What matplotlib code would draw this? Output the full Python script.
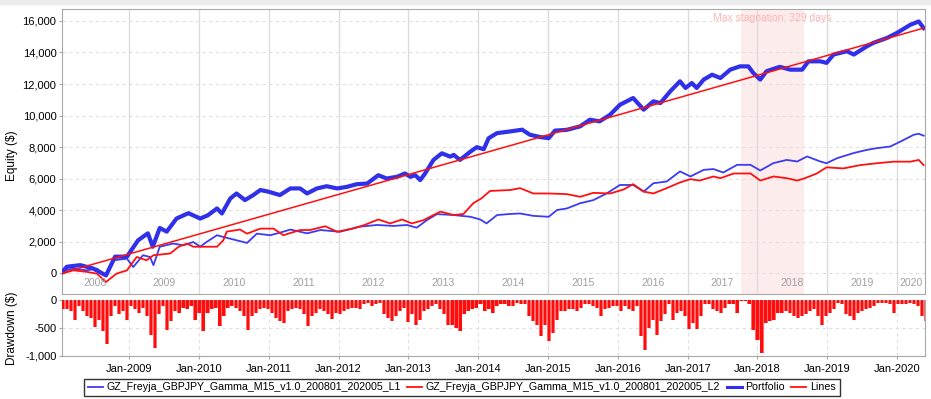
import matplotlib
matplotlib.use("Agg")
import matplotlib.pyplot as plt
import numpy as np
from matplotlib.ticker import FuncFormatter
from matplotlib.lines import Line2D
from matplotlib.patches import Rectangle

plt.rcParams['font.family'] = ['Liberation Sans', 'DejaVu Sans']

# equity values (x = decimal year)
l1_x = [2008.04, 2008.20, 2008.39, 2008.54, 2008.66, 2008.78, 2008.97, 2009.06, 2009.20, 2009.30,
        2009.35, 2009.44, 2009.63, 2009.78, 2009.92, 2010.02, 2010.11, 2010.26, 2010.35, 2010.45,
        2010.69, 2010.83, 2011.02, 2011.16, 2011.31, 2011.55, 2011.74, 2012.02, 2012.30, 2012.55,
        2012.79, 2012.98, 2013.12, 2013.27, 2013.41, 2013.65, 2013.89, 2014.03, 2014.12, 2014.27,
        2014.46, 2014.60, 2014.79, 2015.01, 2015.13, 2015.27, 2015.46, 2015.65, 2015.84, 2016.03,
        2016.22, 2016.37, 2016.51, 2016.70, 2016.89, 2017.04, 2017.23, 2017.37, 2017.51, 2017.71,
        2017.90, 2018.04, 2018.23, 2018.42, 2018.57, 2018.71, 2018.90, 2018.99, 2019.14, 2019.38,
        2019.57, 2019.71, 2019.90, 2020.05, 2020.24, 2020.31, 2020.38]
l1_y = [130, 280, 170, 280, -150, 810, 910, 380, 1130, 1020,
        500, 1670, 1870, 1760, 1970, 1670, 1970, 2400, 2290, 2180,
        1910, 2500, 2400, 2560, 2760, 2520, 2730, 2620, 2940, 3050,
        2990, 3050, 2880, 3370, 3740, 3680, 3570, 3400, 3150, 3680,
        3750, 3780, 3630, 3570, 4000, 4100, 4430, 4630, 5050, 5590,
        5590, 5170, 5700, 5810, 6450, 6130, 6550, 6600, 6380, 6870,
        6870, 6510, 6980, 7180, 7080, 7400, 7080, 6970, 7290, 7620,
        7820, 7930, 8030, 8350, 8780, 8840, 8720]

l2_x = [2008.04, 2008.20, 2008.39, 2008.54, 2008.67, 2008.82, 2008.97, 2009.04, 2009.11, 2009.25,
        2009.35, 2009.59, 2009.71, 2009.83, 2009.92, 2010.06, 2010.26, 2010.35, 2010.40, 2010.59,
        2010.69, 2010.88, 2011.07, 2011.21, 2011.45, 2011.59, 2011.81, 2011.98, 2012.21, 2012.36,
        2012.57, 2012.74, 2012.91, 2013.05, 2013.22, 2013.31, 2013.46, 2013.65, 2013.79, 2013.93,
        2014.05, 2014.17, 2014.46, 2014.60, 2014.79, 2015.01, 2015.27, 2015.46, 2015.65, 2015.89,
        2016.08, 2016.22, 2016.37, 2016.51, 2016.70, 2016.89, 2017.04, 2017.17, 2017.37, 2017.47,
        2017.66, 2017.90, 2018.04, 2018.23, 2018.42, 2018.57, 2018.68, 2018.85, 2018.99, 2019.23,
        2019.47, 2019.71, 2019.95, 2020.19, 2020.31, 2020.38]
l2_y = [-40, 170, 80, -40, -570, -40, 170, 600, 1020, 810,
        1130, 1240, 1670, 1870, 1670, 1670, 1670, 2080, 2630, 2760,
        2500, 2820, 2820, 2400, 2730, 2730, 2970, 2620, 2830, 3030,
        3400, 3150, 3400, 3150, 3360, 3570, 3900, 3680, 3750, 4430,
        4750, 5210, 5270, 5390, 5050, 5050, 5010, 4840, 5090, 5050,
        5300, 5640, 5170, 5050, 5390, 5750, 5960, 5870, 6130, 6020,
        6320, 6320, 5870, 6130, 6020, 5870, 6020, 6320, 6710, 6640,
        6850, 6970, 7070, 7070, 7180, 6850]

pf_x = [2008.04, 2008.11, 2008.30, 2008.48, 2008.67, 2008.80, 2008.97, 2009.13, 2009.27, 2009.34,
        2009.44, 2009.54, 2009.68, 2009.85, 2010.02, 2010.13, 2010.26, 2010.33, 2010.45, 2010.54,
        2010.66, 2010.78, 2010.88, 2011.00, 2011.16, 2011.31, 2011.45, 2011.55, 2011.69, 2011.83,
        2011.98, 2012.12, 2012.26, 2012.41, 2012.57, 2012.69, 2012.84, 2012.95, 2013.03, 2013.10,
        2013.17, 2013.24, 2013.36, 2013.48, 2013.60, 2013.65, 2013.74, 2013.89, 2013.98, 2014.08,
        2014.15, 2014.27, 2014.46, 2014.63, 2014.74, 2014.89, 2015.01, 2015.10, 2015.27, 2015.46,
        2015.60, 2015.74, 2015.89, 2016.03, 2016.22, 2016.37, 2016.51, 2016.61, 2016.75, 2016.89,
        2016.97, 2017.06, 2017.13, 2017.23, 2017.35, 2017.47, 2017.61, 2017.75, 2017.87, 2017.94,
        2018.04, 2018.13, 2018.32, 2018.47, 2018.64, 2018.73, 2018.90, 2018.99, 2019.09, 2019.28,
        2019.38, 2019.57, 2019.66, 2019.86, 2020.00, 2020.19, 2020.31, 2020.38]
pf_y = [50, 400, 500, 300, -150, 1040, 1040, 2080, 2520, 1670,
        2860, 2630, 3460, 3800, 3460, 3670, 4100, 3780, 4730, 5050,
        4630, 4950, 5270, 5160, 4950, 5370, 5370, 5050, 5370, 5510,
        5370, 5470, 5640, 5680, 6210, 6000, 6110, 6320, 6110, 6210,
        5900, 6320, 7180, 7600, 7390, 7500, 7180, 7710, 7990, 7860,
        8560, 8880, 8990, 9100, 8780, 8630, 8560, 9040, 9090, 9310,
        9730, 9630, 10050, 10680, 11110, 10370, 10900, 10790, 11530, 12170,
        11750, 12060, 11750, 12280, 12590, 12380, 12910, 13120, 13120, 12700,
        12280, 12810, 13090, 12910, 12910, 13440, 13440, 13340, 13870, 14080,
        13870, 14400, 14610, 14930, 15250, 15760, 15970, 15550]

# drawdown, one value every 21 days from late Jan 2008
dd_start = 2008.054
dd_step = 21 / 365.25
dd_values = [-170, -170, -200, -360, -110, -200, -290, -320, -480, -350,
             -560, -790, -290, -110, -260, -200, -350, -110, -170, -230,
             -140, -290, -620, -860, -260, -110, -530, -380, -200, -230,
             -140, -170, -110, -360, -230, -560, -230, -170, -140, -460,
             -290, -140, -110, -140, -200, -290, -530, -290, -230, -170,
             -140, -170, -230, -320, -380, -410, -200, -170, -140, -170,
             -260, -460, -290, -230, -170, -200, -260, -340, -230, -260,
             -200, -170, -140, -140, -170, -80, -50, -110, -80, -50,
             -260, -320, -380, -290, -200, -140, -400, -260, -440, -350,
             -200, -170, -110, -80, -170, -260, -440, -440, -500, -550,
             -260, -200, -170, -140, -80, -200, -170, -230, -110, -80,
             -80, -110, -110, -50, -80, -80, -290, -380, -440, -640,
             -440, -730, -590, -350, -200, -200, -170, -170, -200, -140,
             -80, -80, -110, -140, -290, -170, -140, -110, -110, -200,
             -110, -170, -200, -110, -650, -890, -500, -350, -620, -380,
             -260, -80, -350, -230, -200, -290, -520, -410, -520, -290,
             -80, -80, -170, -200, -230, -140, -80, -80, -230, -20,
             -20, -80, -530, -710, -950, -410, -380, -350, -230, -230,
             -200, -230, -290, -320, -290, -260, -200, -170, -290, -440,
             -290, -230, -170, -50, -80, -260, -290, -360, -230, -200,
             -170, -140, -110, -50, -50, -50, -80, -230, -80, -80,
             -80, -50, -80, -110, -290, -380]

stag_start, stag_end = 2017.77, 2018.66
stag_days = 329
years = list(range(2008, 2021))
x_min, x_max = 2008.04, 2020.40

labels = ['GZ_Freyja_GBPJPY_Gamma_M15_v1.0_200801_202005_L1',
          'GZ_Freyja_GBPJPY_Gamma_M15_v1.0_200801_202005_L2',
          'Portfolio', 'Lines']
c_l1 = '#3b3bf2'
c_l2 = '#ff1010'
c_pf = '#3030ea'
grid_c = '#e0e0e0'
spine_c = '#a8a8a8'

fig = plt.figure(figsize=(9.31, 3.99), dpi=100)
fig.patches.append(Rectangle((0, 0.99), 1, 0.01, transform=fig.transFigure,
                             color='#ececec', zorder=0))

ax = fig.add_axes([0.0666, 0.2632, 0.927, 0.7142])
ax2 = fig.add_axes([0.0666, 0.1078, 0.927, 0.1403])

# --- equity panel
ax.axvspan(stag_start, stag_end, color='#fdecec', zorder=0, lw=0)
for yr in years[1:]:
    ax.axvline(yr, color='#dcdcdc', lw=1.0, zorder=1)
ax.yaxis.grid(True, ls=(0, (3, 3)), color=grid_c, lw=0.8)
ax.set_axisbelow(True)

ax.plot(l1_x, l1_y, color=c_l1, lw=1.3, zorder=3)
ax.plot(l2_x, l2_y, color=c_l2, lw=1.3, zorder=3)
ax.plot(pf_x, pf_y, color=c_pf, lw=3, zorder=4)
ax.plot([pf_x[0], pf_x[-1]], [0, pf_y[-1]], color=c_l2, lw=1.1, zorder=5)

ax.set_xlim(x_min, x_max)
ax.set_ylim(-1330, 16760)
ax.set_yticks(range(0, 16001, 2000))
ax.yaxis.set_major_formatter(FuncFormatter(lambda v, p: f'{v:,.0f}'))
ax.tick_params(axis='y', length=2, color=spine_c, labelsize=8, pad=2)
ax.tick_params(axis='x', bottom=False, labelbottom=False)
for sp in ax.spines.values():
    sp.set_color(spine_c)

# year names inside the panel
for yr in years:
    lo, hi = max(yr, x_min), min(yr + 1, x_max)
    ax.text((lo + hi) / 2, 0.04, str(yr), transform=ax.get_xaxis_transform(),
            ha='center', va='center', fontsize=7.5, color='#a0a0a0')

ax.text((stag_start + stag_end) / 2, 0.968, f'Max stagnation: {stag_days} days',
        transform=ax.get_xaxis_transform(), ha='center', va='center',
        fontsize=7.5, color='#ffb4b4')

# --- drawdown panel
dd_x = dd_start + np.arange(len(dd_values)) * dd_step
ax2.bar(dd_x, dd_values, width=dd_step * 1.0, align='center', color='#ff6a6a', lw=0, zorder=2)
ax2.bar(dd_x, dd_values, width=dd_step * 0.55, align='center', color='#ff0c0c', lw=0, zorder=3)
ax2.set_xlim(x_min, x_max)
ax2.set_ylim(-1005, 0)
ax2.set_yticks([0, -500, -1000])
ax2.yaxis.set_major_formatter(FuncFormatter(lambda v, p: f'{v:,.0f}'))
ax2.set_xticks(years[1:])
ax2.set_xticklabels([f'Jan-{y}' for y in years[1:]])
ax2.grid(True, ls=(0, (3, 3)), color=grid_c, lw=0.8)
ax2.set_axisbelow(True)
ax2.tick_params(length=2, color=spine_c, labelsize=8, pad=2)
ax2.tick_params(axis='x', pad=4)
for sp in ax2.spines.values():
    sp.set_color(spine_c)

fig.text(0.013, 0.61, 'Equity ($)', rotation=90, ha='center', va='center', fontsize=8.5)
fig.text(0.013, 0.178, 'Drawdown ($)', rotation=90, ha='center', va='center', fontsize=8.5)

handles = [Line2D([], [], color=c_l1, lw=1.3),
           Line2D([], [], color=c_l2, lw=1.3),
           Line2D([], [], color=c_pf, lw=2.2),
           Line2D([], [], color=c_l2, lw=1.3)]
leg = fig.legend(handles, labels, loc='center', bbox_to_anchor=(0.496, 0.029), ncol=4,
                 fontsize=7.7, frameon=True, fancybox=False, handlelength=1.4,
                 handletextpad=0.35, columnspacing=0.6, borderpad=0.35, borderaxespad=0)
leg.get_frame().set_edgecolor('black')
leg.get_frame().set_linewidth(1.0)

fig.savefig('out.png', dpi=100)
